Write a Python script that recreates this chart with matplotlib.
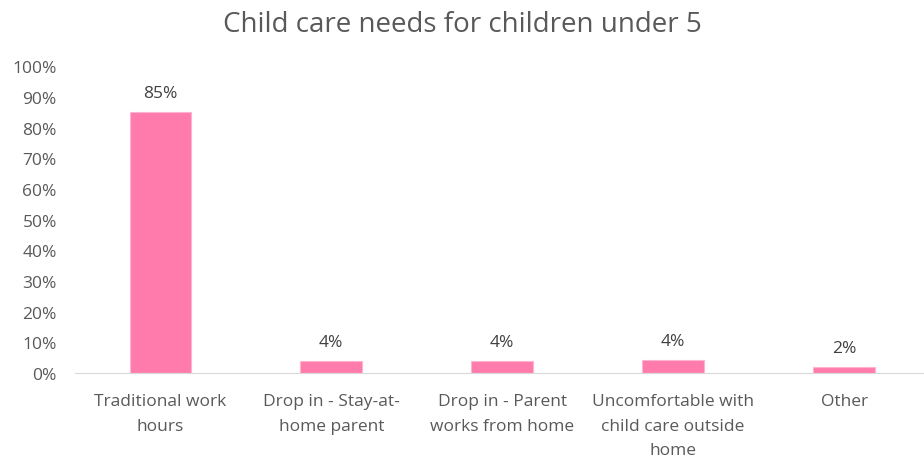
import matplotlib.pyplot as plt
from matplotlib.ticker import FuncFormatter

categories = ['Traditional work\nhours', 'Drop in - Stay-at-\nhome parent',
              'Drop in - Parent\nworks from home', 'Uncomfortable with\nchild care outside\nhome', 'Other']
values = [85.2, 3.9, 4.0, 4.3, 1.9]
labels = ['85%', '4%', '4%', '4%', '2%']

plt.rcParams['font.family'] = ['Open Sans', 'DejaVu Sans']
grey = '#595959'

fig = plt.figure(figsize=(9.24, 4.6), dpi=100)
ax = fig.add_axes([0.081, 0.187, 0.925, 0.667])

x = range(len(categories))
bars = ax.bar(x, values, width=0.36, color='#FF7BAC', edgecolor='#FFB3CF', linewidth=0.8)
for b, t in zip(bars, labels):
    ax.text(b.get_x() + b.get_width() / 2, b.get_height() + 3.5, t,
            ha='center', va='bottom', fontsize=12.5, color='#404040')

ax.set_ylim(0, 100)
ax.set_xlim(-0.5, len(categories) - 0.5)
ax.set_yticks(range(0, 101, 10))
ax.yaxis.set_major_formatter(FuncFormatter(lambda v, p: f'{int(v)}%'))
ax.set_xticks(list(x))
ax.set_xticklabels(categories, fontsize=12.5, color=grey, linespacing=1.72, va='top')
ax.tick_params(axis='y', length=0, labelsize=12.5, labelcolor=grey, pad=13)
ax.tick_params(axis='x', length=0, pad=14.5)
for s in ['top', 'right', 'left']:
    ax.spines[s].set_visible(False)
ax.spines['bottom'].set_color('#D9D9D9')

fig.text(0.5, 0.945, 'Child care needs for children under 5', ha='center', va='center',
         fontsize=20, color=grey)

fig.savefig('out.png')
